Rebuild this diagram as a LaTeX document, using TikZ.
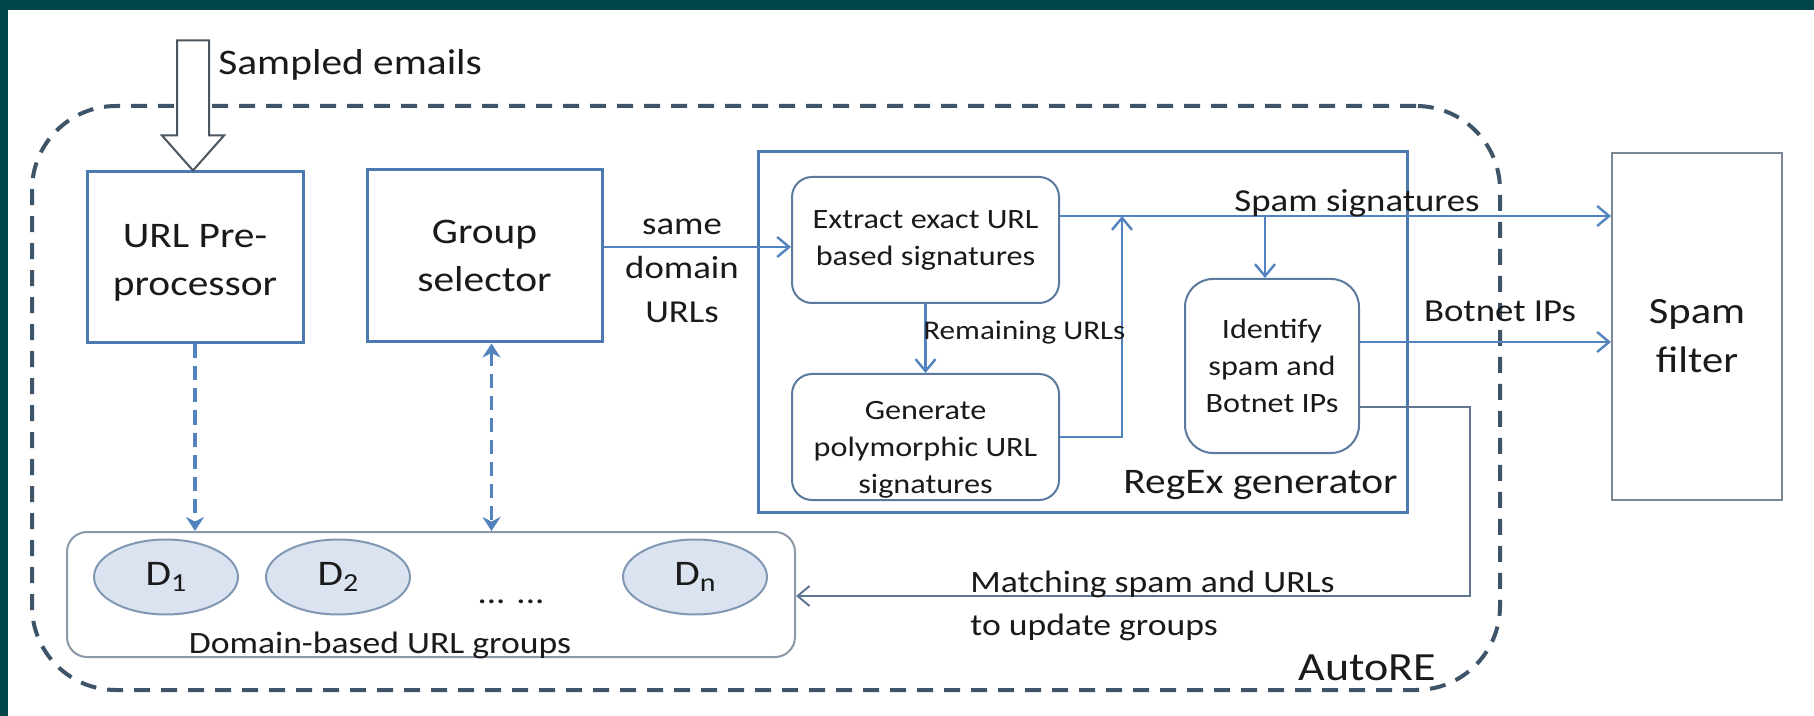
\documentclass[tikz,border=0pt]{standalone}
\usepackage{fontspec}
\setmainfont{Carlito}[FakeStretch=1.15]
\usetikzlibrary{arrows.meta,shapes.geometric}

\definecolor{frameteal}{HTML}{01464A}
\definecolor{boxblue}{HTML}{4A7AB0}
\definecolor{rbblue}{HTML}{5A7A9E}
\definecolor{arrblue}{HTML}{5383BE}
\definecolor{dashgray}{HTML}{3E5468}
\definecolor{sfgray}{HTML}{7A8896}
\definecolor{grpgray}{HTML}{8A98A8}
\definecolor{ellfill}{HTML}{DAE3EF}
\definecolor{elldraw}{HTML}{8197B3}
\definecolor{matchcol}{HTML}{5F7590}
\definecolor{txt}{HTML}{1A1A1A}
\definecolor{hollowcol}{HTML}{4A5560}

\begin{document}
\begin{tikzpicture}[x=0.5pt,y=-0.5pt,
  every node/.style={text=txt},
  bluebox/.style={draw=boxblue, line width=1.5pt, inner sep=0pt, align=center,
    font=\fontsize{18}{24}\selectfont},
  roundbox/.style={draw=rbblue, line width=1pt, rounded corners=10pt, inner sep=0pt,
    align=center, font=\fontsize{14}{18.5}\selectfont},
  domnode/.style={ellipse, draw=elldraw, fill=ellfill, line width=1pt, inner sep=0pt,
    minimum width=72pt, minimum height=37.5pt, font=\fontsize{18}{18}\selectfont},
  arr/.style={draw=arrblue, line width=1.2pt, -{Straight Barb[length=6pt,width=10pt]}},
  matcharr/.style={draw=matchcol, line width=1pt, -{Straight Barb[length=6pt,width=10pt]}},
  dasharr/.style={draw=arrblue, line width=1.7pt, dash pattern=on 7pt off 4pt,
    -{Stealth[length=7pt,width=9pt]}},
  dasharrboth/.style={dasharr, {Stealth[length=7pt,width=9pt]}-{Stealth[length=7pt,width=9pt]}},
  lbl/.style={inner sep=0pt},
]
\useasboundingbox (0,0) rectangle (1814,716);
\fill[white] (0,0) rectangle (1814,716);
\fill[frameteal] (0,0) rectangle (1814,10);
\fill[frameteal] (0,0) rectangle (8,716);

% AutoRE container
\node[draw=dashgray, line width=2pt, dash pattern=on 8pt off 5.5pt, rounded corners=42pt,
  minimum width=734pt, minimum height=292pt, inner sep=0pt] (autore) at (766,398) {};
\node[lbl, anchor=base west, font=\fontsize{20}{20}\selectfont] (autorelbl) at (1298,680) {AutoRE};

% main blocks
\node[bluebox, minimum width=108pt, minimum height=85.5pt] (pre) at (195,257.5) {};
\node[lbl, align=center, font=\fontsize{18}{24}\selectfont] (pretxt) at (195,263) {URL Pre-\\processor};
\node[bluebox, minimum width=117.5pt, minimum height=86pt] (grp) at (484.5,256) {Group\\selector};
\node[bluebox, minimum width=324.5pt, minimum height=180pt] (regex) at (1082.5,332) {};
\node[lbl, anchor=base east, font=\fontsize{18}{18}\selectfont] (regexlbl) at (1398,493) {RegEx generator};

\node[roundbox, minimum width=133.5pt, minimum height=63pt] (extract) at (925.5,240) {Extract exact URL\\based signatures};
\node[roundbox, minimum width=133.5pt, minimum height=63pt] (gen) at (925.5,437) {};
\node[lbl, align=center, font=\fontsize{14}{18.5}\selectfont] (gentxt) at (925.5,450) {Generate\\polymorphic URL\\signatures};
\node[roundbox, rounded corners=14pt, minimum width=87pt, minimum height=87pt] (ident) at (1272,366) {Identify\\spam and\\Botnet IPs};

\node[draw=sfgray, line width=1pt, inner sep=0pt, minimum width=85pt,
  minimum height=173.5pt] (sf) at (1697,326.5) {};
\node[lbl, align=center, font=\fontsize{18.5}{24.5}\selectfont] (sftxt) at (1697,336) {Spam\\filter};

% domain groups
\node[draw=grpgray, line width=1pt, rounded corners=10pt, inner sep=0pt,
  minimum width=364pt, minimum height=62.5pt] (groups) at (431,594.5) {};
\node[domnode] (d1) at (166,577) {D\raisebox{-3pt}{\fontsize{13}{13}\selectfont 1}};
\node[domnode] (d2) at (338,577) {D\raisebox{-3pt}{\fontsize{13}{13}\selectfont 2}};
\node[domnode] (dn) at (695,577) {D\raisebox{-3pt}{\fontsize{13}{13}\selectfont n}};
\node[lbl, anchor=base, font=\fontsize{16}{16}\selectfont] (dots) at (511,603) {... ...};
\node[lbl, anchor=base, font=\fontsize{15.5}{15.5}\selectfont] (grplbl) at (380,653) {Domain-based URL groups};

% input arrow
\draw[draw=hollowcol, line width=1pt, fill=white, line join=miter]
  ([xshift=-1pt]pre.north) -- ++(31,-35) -- ++(-15,0) -- ++(0,-95) -- ++(-32,0)
  -- ++(0,95) -- ++(-15,0) -- cycle;
\node[lbl, anchor=base west, font=\fontsize{18}{18}\selectfont] (sampled) at (218,75) {Sampled emails};

% helper levels
\coordinate (sdy) at (0,247);
\coordinate (sig) at (0,216);
\coordinate (bot) at (0,342);
\coordinate (mt) at (0,407);
\coordinate (merge) at (1122,216);
\coordinate (split) at (1265,216);
\coordinate (turn) at (1470,596);

% connectors
\draw[arr] (grp.east |- sdy) -- (extract.west |- sdy);
\node[lbl, align=center, font=\fontsize{16}{22}\selectfont] (sdlbl) at (682,271) {same\\domain\\URLs};

\draw[arr] (extract.east |- sig) -- (sf.west |- sig);
\node[lbl, anchor=base, font=\fontsize{16}{16}\selectfont] (siglbl) at (1357,212) {Spam signatures};
\draw[arr] (gen.east) -| (merge);
\draw[arr] (split) -- (split |- ident.north);

\draw[arr] (extract.south) -- (gen.north);
\node[lbl, anchor=base west, font=\fontsize{13.5}{13.5}\selectfont] (remlbl) at (923,340) {Remaining URLs};

\draw[arr] (ident.east |- bot) -- (sf.west |- bot);
\node[lbl, anchor=base, font=\fontsize{16}{16}\selectfont] (botlbl) at (1500,322) {Botnet IPs};

\draw[matcharr] (ident.east |- mt) -| (turn) -- (groups.east |- turn);
\node[lbl, anchor=west, align=left, font=\fontsize{15.5}{21.5}\selectfont] (matchlbl) at (970,606)
  {Matching spam and URLs\\to update groups};

\draw[dasharr] (pre.south) -- (pre.south |- groups.north);
\draw[dasharrboth] ([xshift=3.5pt]grp.south) -- ([xshift=3.5pt]grp.south |- groups.north);
\end{tikzpicture}
\end{document}
